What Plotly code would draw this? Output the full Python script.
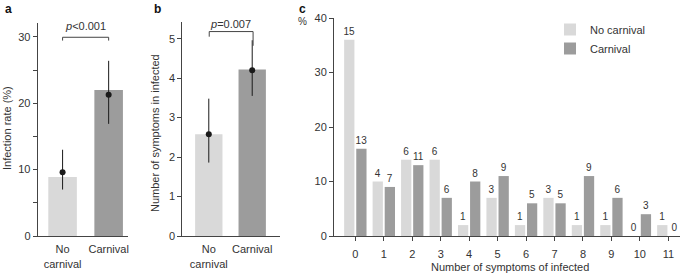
import plotly.graph_objects as go

# ---------------- data ----------------
groups = ["No<br>carnival", "Carnival"]

# panel a: infection rate (%)
infection_bar = [8.9, 22.0]
infection_point = [9.6, 21.3]
infection_lo = [7.0, 16.9]
infection_hi = [13.0, 26.4]

# panel b: number of symptoms in infected
symptoms_bar = [2.58, 4.22]
symptoms_point = [2.58, 4.2]
symptoms_lo = [1.86, 3.55]
symptoms_hi = [3.48, 4.96]

# panel c: distribution of number of symptoms
n_symptoms = list(range(12))
pct_no_carnival = [36, 10, 14, 14, 2, 7, 2, 7, 2, 2, 0, 2]
pct_carnival = [16, 9, 13, 7, 10, 11, 6, 6, 11, 7, 4, 0]
cnt_no_carnival = [15, 4, 6, 6, 1, 3, 1, 3, 1, 1, 0, 1]
cnt_carnival = [13, 7, 11, 6, 8, 9, 5, 5, 9, 6, 3, 0]

# ---------------- style ----------------
C_LIGHT = "#d9d9d9"
C_DARK = "#9c9c9c"
TXT = "#333333"
AX = "#444444"
FONT = "Liberation Sans, Arial, sans-serif"
W, H = 685, 274

fig = go.Figure()

# panel a
fig.add_trace(go.Bar(x=[0, 1], y=infection_bar, width=0.62,
                     marker=dict(color=[C_LIGHT, C_DARK], line=dict(width=0)),
                     showlegend=False, xaxis="x", yaxis="y", hoverinfo="skip"))
fig.add_trace(go.Scatter(x=[0, 1], y=infection_point, mode="markers",
                         marker=dict(color="#1a1a1a", size=6),
                         error_y=dict(type="data", symmetric=False,
                                      array=[h - p for h, p in zip(infection_hi, infection_point)],
                                      arrayminus=[p - l for p, l in zip(infection_point, infection_lo)],
                                      thickness=1, width=0, color="#1a1a1a"),
                         showlegend=False, xaxis="x", yaxis="y"))

# panel b
fig.add_trace(go.Bar(x=[0, 1], y=symptoms_bar, width=0.63,
                     marker=dict(color=[C_LIGHT, C_DARK], line=dict(width=0)),
                     showlegend=False, xaxis="x2", yaxis="y2", hoverinfo="skip"))
fig.add_trace(go.Scatter(x=[0, 1], y=symptoms_point, mode="markers",
                         marker=dict(color="#1a1a1a", size=6),
                         error_y=dict(type="data", symmetric=False,
                                      array=[h - p for h, p in zip(symptoms_hi, symptoms_point)],
                                      arrayminus=[p - l for p, l in zip(symptoms_point, symptoms_lo)],
                                      thickness=1, width=0, color="#1a1a1a"),
                         showlegend=False, xaxis="x2", yaxis="y2"))

# panel c
fig.add_trace(go.Bar(x=n_symptoms, y=pct_no_carnival, name="No carnival",
                     marker=dict(color=C_LIGHT, line=dict(width=0)),
                     text=cnt_no_carnival, textposition="outside", constraintext="none",
                     textfont=dict(size=10, color=TXT), cliponaxis=False,
                     xaxis="x3", yaxis="y3"))
fig.add_trace(go.Bar(x=n_symptoms, y=pct_carnival, name="Carnival",
                     marker=dict(color=C_DARK, line=dict(width=0)),
                     text=cnt_carnival, textposition="outside", constraintext="none",
                     textfont=dict(size=10, color=TXT), cliponaxis=False,
                     xaxis="x3", yaxis="y3"))

def px_x(p):
    return p / W

def px_y(p):
    return 1 - p / H

axis_common = dict(showline=True, linecolor=AX, linewidth=1, showgrid=False,
                   zeroline=False, tickfont=dict(size=11, color=TXT),
                   tickcolor=AX, ticklen=4, tickwidth=1, fixedrange=True,
                   automargin=False)

fig.update_layout(
    width=W, height=H,
    margin=dict(l=0, r=0, t=0, b=0, autoexpand=False),
    paper_bgcolor="white", plot_bgcolor="white",
    font=dict(family=FONT, size=11, color=TXT),
    barmode="group", bargap=0.15, bargroupgap=0.15,
    xaxis=dict(axis_common, domain=[px_x(37.7), px_x(128)], range=[-0.54, 1.42],
               tickvals=[0, 1], ticktext=groups, ticks="", anchor="y",
               ticklabelstandoff=3),
    yaxis=dict(axis_common, domain=[px_y(236), px_y(23)], range=[0, 32.1],
               tickvals=[0, 5, 10, 15, 20, 25, 30],
               ticktext=["0", "", "10", "", "20", "", "30"], ticks="outside",
               anchor="x"),
    xaxis2=dict(axis_common, domain=[px_x(182.3), px_x(280)], range=[-0.61, 1.64],
                tickvals=[0, 1], ticktext=groups, ticks="", anchor="y2",
                ticklabelstandoff=3),
    yaxis2=dict(axis_common, domain=[px_y(236), px_y(21.7)], range=[0, 5.43],
                tickvals=[0, 1, 2, 3, 4, 5], ticks="outside", anchor="x2"),
    xaxis3=dict(axis_common, domain=[px_x(334), px_x(680)], range=[-0.75, 11.41],
                tickvals=n_symptoms, ticks="outside", anchor="y3",
                ticklabelstandoff=4),
    yaxis3=dict(axis_common, domain=[px_y(236), px_y(18)], range=[0, 40],
                tickvals=[0, 10, 20, 30, 40], ticks="outside", anchor="x3"),
    legend=dict(x=px_x(550), y=px_y(15), xanchor="left", yanchor="top",
                font=dict(size=11, color=TXT), bgcolor="rgba(0,0,0,0)",
                itemsizing="constant", tracegroupgap=0),
    showlegend=True,
)

# significance brackets (data coordinates of each panel)
bracket_a = dict(x0=0, x1=1, y=29.95, leg0=29.45, leg1=29.45)
bracket_b = dict(x0=0.01, x1=1.02, y=5.18, leg0=5.05, leg1=4.82)
shapes = []
for br, xr, yr in [(bracket_a, "x", "y"), (bracket_b, "x2", "y2")]:
    shapes.append(dict(type="path", xref=xr, yref=yr,
                       path=f"M {br['x0']},{br['leg0']} L {br['x0']},{br['y']} L {br['x1']},{br['y']} L {br['x1']},{br['leg1']}",
                       line=dict(color=AX, width=1)))
fig.update_layout(shapes=shapes)

ann = []
# panel letters
for t, x in [("a", 3), ("b", 152), ("c", 297)]:
    ann.append(dict(text=f"<b>{t}</b>", x=px_x(x), y=1.0, xref="paper", yref="paper",
                    xanchor="left", yanchor="top", showarrow=False,
                    font=dict(size=12, color="#111111")))
# p values
ann.append(dict(text="<i>p</i>&lt;0.001", x=0.5, y=px_y(26.5), xref="x", yref="paper",
                showarrow=False, font=dict(size=11, color=TXT),
                xanchor="center", yanchor="middle"))
ann.append(dict(text="<i>p</i>=0.007", x=0.5, y=px_y(24.5), xref="x2", yref="paper",
                showarrow=False, font=dict(size=11, color=TXT),
                xanchor="center", yanchor="middle"))
# axis titles
ann.append(dict(text="Infection rate (%)", x=px_x(7), y=px_y(128), xref="paper", yref="paper",
                textangle=-90, showarrow=False, font=dict(size=11, color=TXT),
                xanchor="center", yanchor="middle"))
ann.append(dict(text="Number of symptoms in infected", x=px_x(155), y=px_y(133),
                xref="paper", yref="paper", textangle=-90, showarrow=False,
                font=dict(size=11, color=TXT), xanchor="center", yanchor="middle"))
ann.append(dict(text="%", x=px_x(302), y=px_y(21.5), xref="paper", yref="paper",
                showarrow=False, font=dict(size=10, color=TXT),
                xanchor="center", yanchor="middle"))
ann.append(dict(text="Number of symptoms of infected", x=px_x(510), y=px_y(267),
                xref="paper", yref="paper", showarrow=False,
                font=dict(size=11, color=TXT), xanchor="center", yanchor="middle"))
fig.update_layout(annotations=ann)

fig.write_html("out.html", config={"displayModeBar": False},
               post_script="document.body.style.margin='0';document.body.style.padding='0';document.body.style.overflow='hidden';")
